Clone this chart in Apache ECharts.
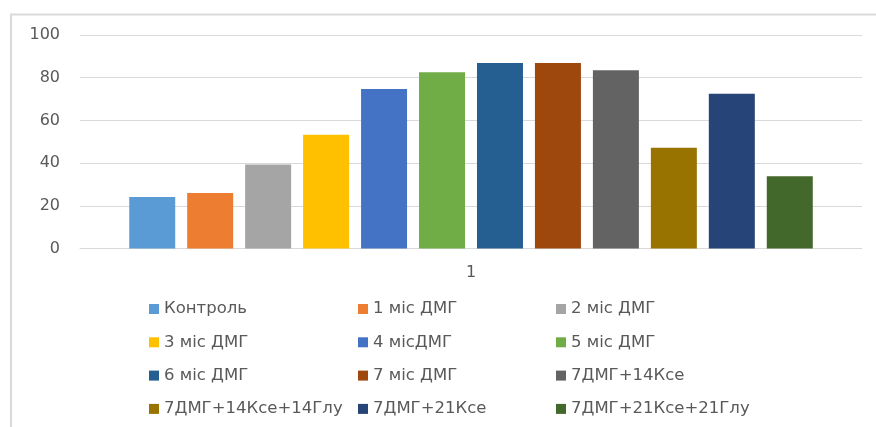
<!DOCTYPE html>
<html>
<head>
<meta charset="utf-8">
<script src="https://cdn.jsdelivr.net/npm/echarts@6/dist/echarts.min.js"></script>
<style>
  html, body { margin: 0; padding: 0; background: #fff; }
  #chart { width: 876px; height: 427px; }
</style>
</head>
<body>
<div id="chart"></div>
<script>
// Category on the x axis
const categories = ['1'];

// Series names, in legend order
const seriesNames = [
  'Контроль', '1 міс ДМГ', '2 міс ДМГ',
  '3 міс ДМГ', '4 місДМГ', '5 міс ДМГ',
  '6 міс ДМГ', '7 міс ДМГ', '7ДМГ+14Ксе',
  '7ДМГ+14Ксе+14Глу', '7ДМГ+21Ксе', '7ДМГ+21Ксе+21Глу'
];

// One value per series
const seriesValues = [24.1, 26.0, 39.4, 53.3, 74.7, 82.5, 86.9, 86.9, 83.5, 47.2, 72.5, 33.8];

// Bar colours
const seriesColors = [
  '#5b9bd5', '#ed7d31', '#a5a5a5',
  '#ffc000', '#4472c4', '#70ad47',
  '#255e91', '#9e480e', '#636363',
  '#997300', '#264478', '#43682b'
];

// Y axis ticks
const yTicks = [0, 20, 40, 60, 80, 100];

const FONT = '"DejaVu Sans", "Liberation Sans", sans-serif';
const TEXT = '#595959';

const chart = echarts.init(document.getElementById('chart'), null, { renderer: 'canvas' });

const series = seriesNames.map((name, i) => ({
  name: name,
  type: 'bar',
  data: [seriesValues[i]],
  barWidth: 46,
  barGap: '26%',
  itemStyle: { color: seriesColors[i] },
  emphasis: { disabled: true }
}));

// Legend split into three columns, filled row by row
const legendCols = [0, 1, 2].map(c => seriesNames.filter((_, i) => i % 3 === c));
const legendLeft = [149, 358, 556];
const legends = legendCols.map((data, c) => ({
  data: data,
  orient: 'vertical',
  left: legendLeft[c],
  top: 299,
  padding: 0,
  itemWidth: 10,
  itemHeight: 10,
  itemGap: 13.3,
  icon: 'rect',
  selectedMode: false,
  textStyle: { color: TEXT, fontFamily: FONT, fontSize: 16.5, lineHeight: 20, padding: [0, 0, 0, 0] }
}));

chart.setOption({
  animation: false,
  backgroundColor: '#ffffff',
  graphic: [
    { type: 'line', shape: { x1: 10, y1: 14.5, x2: 876, y2: 14.5 }, style: { stroke: '#d9d9d9', lineWidth: 2 } },
    { type: 'line', shape: { x1: 11, y1: 14, x2: 11, y2: 427 }, style: { stroke: '#d9d9d9', lineWidth: 2 } }
  ],
  legend: legends,
  grid: { left: 80, right: 14, top: 35, height: 213.5, containLabel: false },
  xAxis: {
    type: 'category',
    data: categories,
    axisLine: { show: true, lineStyle: { color: '#d9d9d9', width: 1 } },
    axisTick: { show: false },
    axisLabel: { color: TEXT, fontFamily: FONT, fontSize: 16, margin: 16 }
  },
  yAxis: {
    type: 'value',
    min: yTicks[0],
    max: yTicks[yTicks.length - 1],
    interval: yTicks[1] - yTicks[0],
    axisLine: { show: false },
    axisTick: { show: false },
    splitLine: { lineStyle: { color: '#d9d9d9', width: 1 } },
    axisLabel: { color: TEXT, fontFamily: FONT, fontSize: 16, margin: 20 }
  },
  series: series
});
</script>
</body>
</html>
